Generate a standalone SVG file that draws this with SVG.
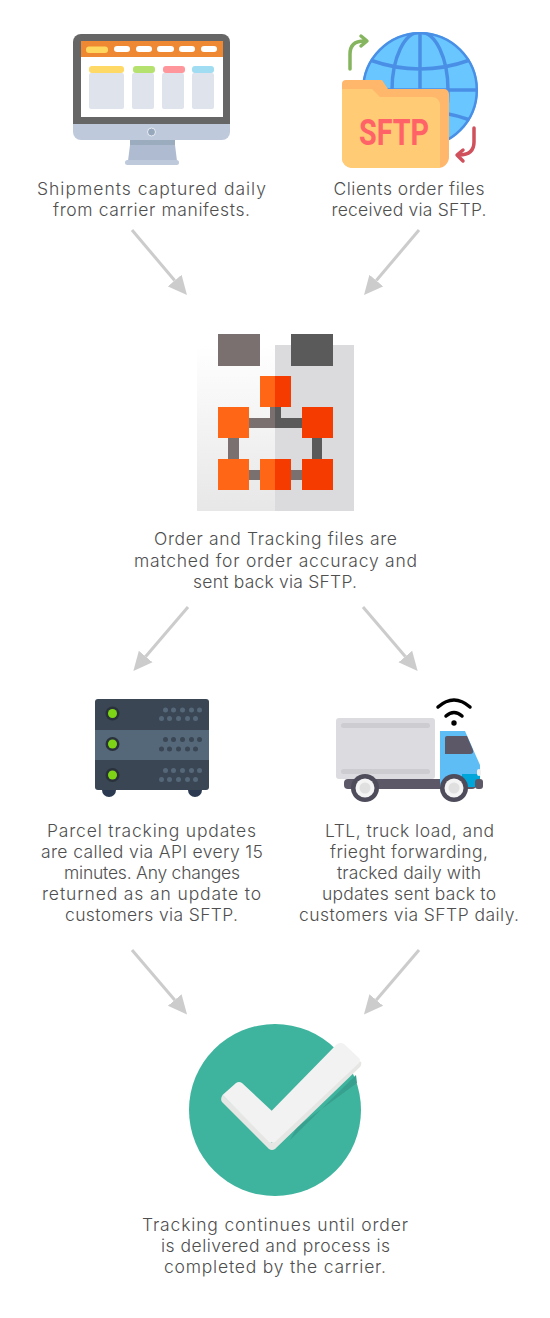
<svg xmlns="http://www.w3.org/2000/svg" width="550" height="1318" viewBox="0 0 550 1318">
<style>
.t{font-family:"Inter","Liberation Sans",sans-serif;font-size:17.500px;font-weight:300;fill:#4f4f4f;text-anchor:middle}
.a{stroke:#ccc;stroke-width:3;fill:none;marker-end:url(#h)}
.g{fill:none;stroke:#4a8fe6;stroke-width:3.500}
.d1{fill:#55687a}.d2{fill:#3a4653}
</style>
<defs>
<marker id="h" markerUnits="userSpaceOnUse" markerWidth="20" markerHeight="20" refX="0" refY="10" orient="auto" viewBox="0 0 20 20"><path d="M0,1 L19,10 L0,19z" fill="#ccc"/></marker>
<linearGradient id="fade" x1="0" y1="0" x2="0" y2="1"><stop offset="0" stop-color="#fff"/><stop offset="1" stop-color="#e7e7e7"/></linearGradient>
<clipPath id="gl"><circle cx="420" cy="90" r="58"/></clipPath>
</defs>
<rect width="550" height="1318" fill="#fff"/>
<g id="connectors">
<path class="a" d="M132,230L174.7,280.5"/>
<path class="a" d="M419,230L376.3,280.5"/>
<path class="a" d="M188,607L145.7,656.5"/>
<path class="a" d="M363,607L405.3,656.5"/>
<path class="a" d="M132,950L174.7,1000"/>
<path class="a" d="M419,950L376.3,1000"/>
</g>
<g id="node-manifests">
<path d="M81,34H222a8,8 0 0 1 8,8V124H73V42a8,8 0 0 1 8,-8z" fill="#666"/>
<path d="M73,124H230V132a8,8 0 0 1 -8,8H81a8,8 0 0 1 -8,-8z" fill="#bec9dc"/>
<rect x="81" y="41" width="142" height="76" fill="#fff"/>
<rect x="81" y="41" width="142" height="16" fill="#ee8833"/>
<g fill="#fff"><rect x="114" y="46" width="16" height="6" rx="3"/><rect x="136" y="46" width="16" height="6" rx="3"/><rect x="157" y="46" width="17" height="6" rx="3"/><rect x="179" y="46" width="16" height="6" rx="3"/><rect x="201" y="46" width="16" height="6" rx="3"/></g>
<rect x="86" y="46.500" width="22" height="6.500" rx="3" fill="#ffd75f"/>
<g fill="#dfe3ec"><rect x="89" y="73" width="35" height="36" rx="2"/><rect x="132" y="73" width="22" height="36" rx="2"/><rect x="162" y="73" width="22" height="36" rx="2"/><rect x="192" y="73" width="22" height="36" rx="2"/></g>
<rect x="89" y="66" width="35" height="7" rx="3" fill="#ffd966"/><rect x="133" y="66" width="22" height="7" rx="3" fill="#b5e26f"/><rect x="163" y="66" width="22" height="7" rx="3" fill="#ff969b"/><rect x="192" y="66" width="22" height="7" rx="3" fill="#a0dcf2"/>
<circle cx="151.500" cy="132" r="4" fill="#98a8bc" stroke="#e8edf4"/>
<path d="M130,140H175L175,145H130z" fill="#9bacbf"/>
<path d="M130,145H175L177,161H128z" fill="#aebbd1"/>
<rect x="125" y="160" width="54" height="5" rx="2.500" fill="#bec9dc"/>
<text class="t" x="151.500" y="195" textLength="229">Shipments captured daily</text>
<text class="t" x="151.500" y="216" textLength="197">from carrier manifests.</text>
</g>
<g id="node-sftp">
<circle cx="420" cy="90" r="58" fill="#69c6ff"/>
<g clip-path="url(#gl)"><path d="M478,32A58,58 0 0 1 478,148H450A58,58 0 0 0 450,32z" fill="#5aaef0"/>
<ellipse class="g" cx="420" cy="90" rx="28" ry="58"/><path class="g" d="M420,32V148M362,90H478M370,60Q420,78 470,60M370,120Q420,102 470,120"/></g>
<circle cx="420" cy="90" r="56.800" fill="none" stroke="#4a8fe6" stroke-width="2.500"/>
<path d="M342,84a4,4 0 0 1 4,-4H382L388,89H444a5,5 0 0 1 5,5V157a11,11 0 0 1 -11,11H352a10,10 0 0 1 -10,-10z" fill="#ffb76b"/>
<path d="M342,89H372L380,97H432a8,8 0 0 1 8,8V168H352a10,10 0 0 1 -10,-10z" fill="#ffcc75"/>
<text x="394" y="145" textLength="70" lengthAdjust="spacingAndGlyphs" style="font-family:'Roboto','Liberation Sans',sans-serif;font-weight:700;font-size:37px;fill:#ff6368;text-anchor:middle">SFTP</text>
<path d="M350,69V54Q350,41 364,41M361,36L367,41L361,46" fill="none" stroke="#86b560" stroke-width="3.500" stroke-linecap="round" stroke-linejoin="round"/>
<path d="M474,128V142Q474,155 459,155M463,150L457,155L463,161" fill="none" stroke="#d0505c" stroke-width="3.500" stroke-linecap="round" stroke-linejoin="round"/>
<text class="t" x="409" y="195" textLength="151">Clients order files</text>
<text class="t" x="409" y="216" textLength="155">received via SFTP.</text>
</g>
<g id="node-match">
<rect x="197" y="345" width="78" height="166" fill="url(#fade)"/>
<rect x="275" y="345" width="79" height="166" fill="#dbdbde"/>
<rect x="218" y="334" width="42" height="32" fill="#7a7070"/>
<rect x="291" y="334" width="42" height="32" fill="#5a5a5a"/>
<path d="M270,407H275V428H249V418H270z M228,438H239V459H228z M249,470H260V480H249z M291,470H302V480H291z" fill="#7a7070"/>
<path d="M275,407H281V418H302V428H275z M312,438H322V459H312z" fill="#5a5a5a"/>
<g fill="#ff6616"><rect x="260" y="376" width="15" height="31"/><rect x="218" y="407" width="31" height="31"/><rect x="218" y="459" width="31" height="31"/><rect x="260" y="459" width="15" height="31"/></g>
<g fill="#f53b00"><rect x="275" y="376" width="16" height="31"/><rect x="302" y="407" width="31" height="31"/><rect x="302" y="459" width="31" height="31"/><rect x="275" y="459" width="16" height="31"/></g>
<text class="t" x="275.500" y="545" textLength="243">Order and Tracking files are</text>
<text class="t" x="275.500" y="567" textLength="283">matched for order accuracy and</text>
<text class="t" x="275" y="588" textLength="164">sent back via SFTP.</text>
</g>
<g id="node-api">
<circle cx="109" cy="790" r="7" fill="#2b3a50"/><circle cx="195" cy="790" r="7" fill="#2b3a50"/>
<path d="M98,699H206a3,3 0 0 1 3,3V730H95V702a3,3 0 0 1 3,-3z" class="d2"/>
<rect x="95" y="730" width="114" height="30" class="d1"/>
<path d="M95,760H209V787a3,3 0 0 1 -3,3H98a3,3 0 0 1 -3,-3z" class="d2"/>
<g fill="#29313b"><circle cx="112.500" cy="713.500" r="7"/><circle cx="112.500" cy="744" r="7"/><circle cx="112.500" cy="775" r="7"/></g>
<g fill="#7ed516"><circle cx="112.500" cy="713.500" r="4.500"/><circle cx="112.500" cy="744" r="4.500"/><circle cx="112.500" cy="775" r="4.500"/></g>
<g class="d1"><circle cx="165.500" cy="710" r="2.500"/><circle cx="173.500" cy="710" r="2.500"/><circle cx="182.500" cy="710" r="2.500"/><circle cx="191.500" cy="710" r="2.500"/><circle cx="199.500" cy="710" r="2.500"/><circle cx="161.500" cy="718.500" r="2.500"/><circle cx="169.500" cy="718.500" r="2.500"/><circle cx="178.500" cy="718.500" r="2.500"/><circle cx="187.500" cy="718.500" r="2.500"/><circle cx="195.500" cy="718.500" r="2.500"/>
<circle cx="165.500" cy="770.500" r="2.500"/><circle cx="173.500" cy="770.500" r="2.500"/><circle cx="182.500" cy="770.500" r="2.500"/><circle cx="191.500" cy="770.500" r="2.500"/><circle cx="199.500" cy="770.500" r="2.500"/><circle cx="161.500" cy="779.500" r="2.500"/><circle cx="169.500" cy="779.500" r="2.500"/><circle cx="178.500" cy="779.500" r="2.500"/><circle cx="187.500" cy="779.500" r="2.500"/><circle cx="195.500" cy="779.500" r="2.500"/></g>
<g class="d2"><circle cx="165.500" cy="739.500" r="2.500"/><circle cx="173.500" cy="739.500" r="2.500"/><circle cx="182.500" cy="739.500" r="2.500"/><circle cx="191.500" cy="739.500" r="2.500"/><circle cx="199.500" cy="739.500" r="2.500"/><circle cx="161.500" cy="749" r="2.500"/><circle cx="169.500" cy="749" r="2.500"/><circle cx="178.500" cy="749" r="2.500"/><circle cx="187.500" cy="749" r="2.500"/><circle cx="195.500" cy="749" r="2.500"/></g>
<text class="t" x="151.500" y="837" textLength="209">Parcel tracking updates</text>
<text class="t" x="152" y="858" textLength="222">are called via API every 15</text>
<text class="t" x="152" y="879" textLength="176">minutes. Any changes</text>
<text class="t" x="151.500" y="900" textLength="219">returned as an update to</text>
<text class="t" x="151.500" y="921" textLength="173">customers via SFTP.</text>
</g>
<g id="node-truck">
<rect x="344" y="779" width="132" height="10" rx="4" fill="#5d5867"/>
<path d="M440,731H465L480,765V787H440z" fill="#5fbdf5"/>
<path d="M462,774H480V787H462z" fill="#00a6d9"/>
<path d="M447,736H467L473,750Q474,754 470,754H445V738a2,2 0 0 1 2,-2z" fill="#5d5867"/>
<rect x="475" y="779" width="8" height="10" rx="3" fill="#5d5867"/>
<rect x="477" y="769" width="4" height="7" rx="2" fill="#f0f0f0"/>
<rect x="336" y="718" width="99" height="61" rx="3" fill="#dcdce0"/>
<rect x="341" y="723" width="89" height="5" rx="2.500" fill="#cdcdd1"/>
<rect x="341" y="769" width="89" height="5" rx="2.500" fill="#cdcdd1"/>
<g fill="#4e4b5a"><circle cx="365" cy="788" r="14"/><circle cx="454" cy="788" r="14"/></g>
<g fill="#f4f4f4"><circle cx="365" cy="788" r="9.500"/><circle cx="454" cy="788" r="9.500"/></g>
<g fill="#e0e0e0"><circle cx="365" cy="788" r="5.500"/><circle cx="454" cy="788" r="5.500"/></g>
<circle cx="454" cy="723" r="2.700" fill="#000"/>
<path d="M446,716Q454,709 462,716M438,707Q454,693 470,707" fill="none" stroke="#000" stroke-width="3.500" stroke-linecap="round"/>
<text class="t" x="409.500" y="837" textLength="169">LTL, truck load, and</text>
<text class="t" x="409" y="858" textLength="158">frieght forwarding,</text>
<text class="t" x="409" y="879" textLength="144">tracked daily with</text>
<text class="t" x="409" y="900" textLength="174">updates sent back to</text>
<text class="t" x="409" y="921" textLength="220">customers via SFTP daily.</text>
</g>
<g id="node-done">
<circle cx="275" cy="1110" r="86" fill="#3eb39d"/>
<path d="M290,1140L356,1075L357,1083L297,1127Z" fill="#38a08e"/>
<path d="M222.500,1095L271.700,1143L355,1061L361,1061.700Q362,1065 360,1067L275,1149Q272,1151 269,1149L222,1102Q220,1099 222.500,1095Z" fill="#e6e6e4"/>
<path d="M222.500,1095L236,1083Q239,1081 242,1083L271.700,1110.700L337,1044Q341,1042 344,1044L359,1058Q361,1060 359,1063L275,1142Q272,1143 269,1142Z" fill="#f2f2f2"/>
<text class="t" x="275" y="1231" textLength="266">Tracking continues until order</text>
<text class="t" x="275.500" y="1252" textLength="229">is delivered and process is</text>
<text class="t" x="275" y="1273" textLength="222">completed by the carrier.</text>
</g>
</svg>
